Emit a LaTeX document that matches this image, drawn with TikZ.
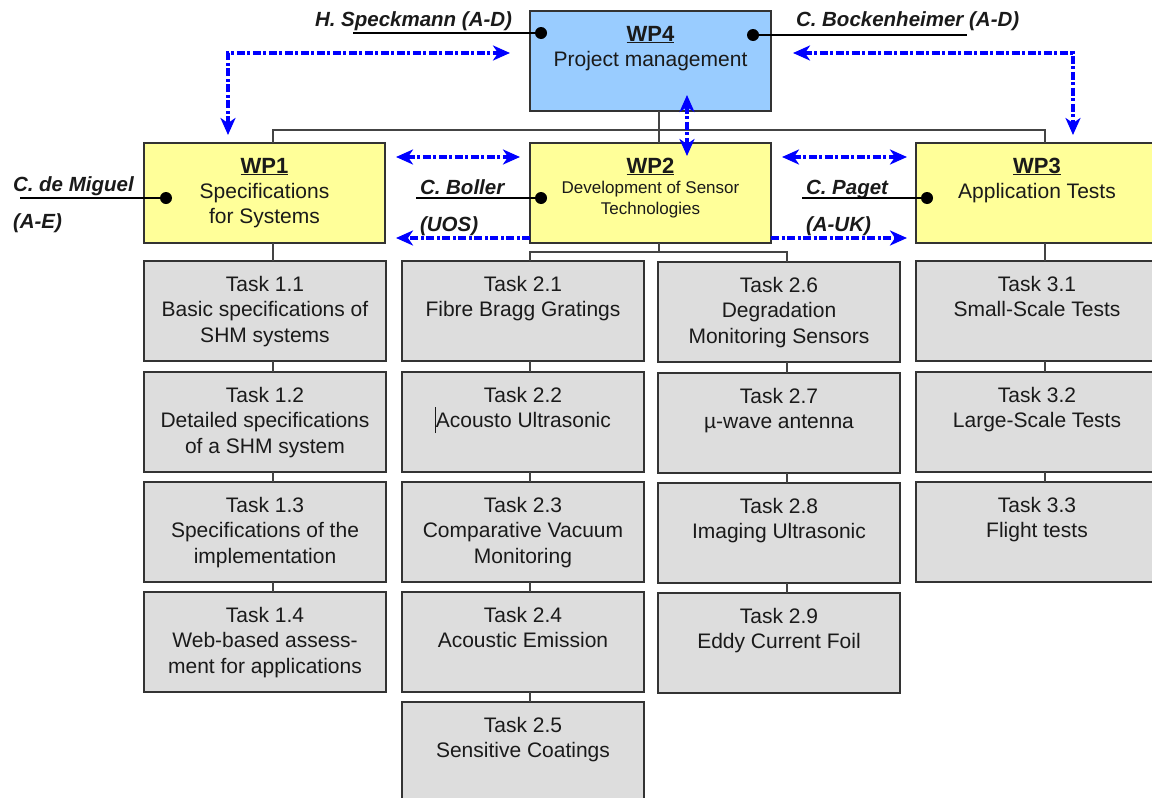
\documentclass[tikz,border=0pt]{standalone}
\usepackage{fontspec}
\setmainfont{Liberation Sans}
\usetikzlibrary{arrows.meta}
\definecolor{wpblue}{HTML}{99CCFF}
\definecolor{wpyellow}{HTML}{FFFF99}
\definecolor{taskgray}{HTML}{DDDDDD}
\definecolor{boxline}{HTML}{333333}
\definecolor{connline}{HTML}{444444}
\definecolor{arrowblue}{HTML}{0000FF}
\definecolor{txt}{HTML}{1A1A1A}
\newcommand{\tasktext}[1]{\parbox[c][100pt][t]{242pt}{\centering\color{txt}\fontsize{21}{25.5}\selectfont\rule{0pt}{30pt}#1}}
\newcommand{\wptext}[4]{\parbox[c][100pt][t]{241pt}{\centering\color{txt}\rule{0pt}{30pt}{\fontsize{22}{25}\selectfont\bfseries\underline{#1}}\par\fontsize{#2}{#3}\selectfont #4}}
\tikzset{
  boxbase/.style={draw=boxline, line width=1.5pt, inner sep=0pt, outer sep=0pt, anchor=north west},
  wpbox/.style={boxbase, minimum width=241pt, minimum height=100pt},
  taskbox/.style={boxbase, fill=taskgray, minimum width=242pt, minimum height=100pt},
  conn/.style={draw=connline, line width=1.5pt},
  person/.style={inner sep=0pt, outer sep=0pt, anchor=base west, text=txt, font=\fontsize{20.5}{23}\selectfont\bfseries\itshape},
  leader/.style={draw=black, line width=1.4pt},
  bluelink/.style={draw=arrowblue, line width=4pt, dash pattern=on 8pt off 2.5pt on 3pt off 2.5pt},
  tipb/.tip={Stealth[length=17pt,width=15pt,inset=5pt]},
  biarrow/.style={bluelink, tipb-tipb},
  onearrow/.style={bluelink, -tipb}
}
\begin{document}
\begin{tikzpicture}[x=1pt, y=-1pt]
\useasboundingbox (0,0) rectangle (1152,798);
\clip (0,0) rectangle (1152,798);
\fill[white] (0,0) rectangle (1152,798);

% work packages
\node[wpbox, fill=wpblue] (wp4) at (530,11) {\wptext{WP4}{21}{25}{Project management}};
\node[wpbox, fill=wpyellow] (wp1) at (144,143) {\wptext{WP1}{21}{25}{Specifications\\for Systems}};
\node[wpbox, fill=wpyellow] (wp2) at (530,143) {\wptext{WP2}{17}{20.5}{Development of Sensor\\Technologies}};
\node[wpbox, fill=wpyellow, minimum width=242pt] (wp3) at (916,143) {\parbox[c][100pt][t]{242pt}{\centering\color{txt}\rule{0pt}{30pt}{\fontsize{22}{25}\selectfont\bfseries\underline{WP3}}\par\fontsize{21}{25}\selectfont Application Tests}};

% tasks column 1
\node[taskbox] (t11) at (144,261) {\tasktext{Task 1.1\\Basic specifications of\\SHM systems}};
\node[taskbox] (t12) at (144,372) {\tasktext{Task 1.2\\Detailed specifications\\of a SHM system}};
\node[taskbox] (t13) at (144,482) {\tasktext{Task 1.3\\Specifications of the\\implementation}};
\node[taskbox] (t14) at (144,592) {\tasktext{Task 1.4\\Web-based assess-\\ment for applications}};
% tasks column 2a
\node[taskbox] (t21) at (402,261) {\tasktext{Task 2.1\\Fibre Bragg Gratings}};
\node[taskbox] (t22) at (402,372) {\tasktext{Task 2.2\\\rule[-5.5pt]{0.8pt}{26pt}Acousto Ultrasonic}};
\node[taskbox] (t23) at (402,482) {\tasktext{Task 2.3\\Comparative Vacuum\\Monitoring}};
\node[taskbox] (t24) at (402,592) {\tasktext{Task 2.4\\Acoustic Emission}};
\node[taskbox] (t25) at (402,702) {\tasktext{Task 2.5\\Sensitive Coatings}};
% tasks column 2b
\node[taskbox] (t26) at (658,262) {\tasktext{Task 2.6\\Degradation\\Monitoring Sensors}};
\node[taskbox] (t27) at (658,373) {\tasktext{Task 2.7\\µ-wave antenna}};
\node[taskbox] (t28) at (658,483) {\tasktext{Task 2.8\\Imaging Ultrasonic}};
\node[taskbox] (t29) at (658,593) {\tasktext{Task 2.9\\Eddy Current Foil}};
% tasks column 3
\node[taskbox] (t31) at (916,261) {\tasktext{Task 3.1\\Small-Scale Tests}};
\node[taskbox] (t32) at (916,372) {\tasktext{Task 3.2\\Large-Scale Tests}};
\node[taskbox] (t33) at (916,482) {\tasktext{Task 3.3\\Flight tests}};

% connector columns
\coordinate (c1) at (273,0);
\coordinate (c2) at (530,0);
\coordinate (cm) at (659,0);
\coordinate (c3) at (787,0);
\coordinate (c4) at (1045,0);
\coordinate (tophub) at (659,130);
\coordinate (midhub) at (659,252);

\draw[conn] (wp4.south -| cm) -- (wp2.north -| cm);
\draw[conn] (wp1.north -| c1) |- (tophub) -| (wp3.north -| c4);
\draw[conn] (wp2.south -| cm) -- (midhub);
\draw[conn] (t21.north -| c2) |- (midhub) -| (t26.north -| c3);
\draw[conn] (wp1.south -| c1) -- (t11.north -| c1);
\draw[conn] (wp3.south -| c4) -- (t31.north -| c4);
\draw[conn] (t11.south -| c1) -- (t12.north -| c1);
\draw[conn] (t12.south -| c1) -- (t13.north -| c1);
\draw[conn] (t13.south -| c1) -- (t14.north -| c1);
\draw[conn] (t21.south -| c2) -- (t22.north -| c2);
\draw[conn] (t22.south -| c2) -- (t23.north -| c2);
\draw[conn] (t23.south -| c2) -- (t24.north -| c2);
\draw[conn] (t24.south -| c2) -- (t25.north -| c2);
\draw[conn] (t26.south -| c3) -- (t27.north -| c3);
\draw[conn] (t27.south -| c3) -- (t28.north -| c3);
\draw[conn] (t28.south -| c3) -- (t29.north -| c3);
\draw[conn] (t31.south -| c4) -- (t32.north -| c4);
\draw[conn] (t32.south -| c4) -- (t33.north -| c4);

% persons
\node[person] (hs) at (315,26) {H. Speckmann (A-D)};
\node[person] (cb) at (796,26) {C. Bockenheimer (A-D)};
\node[person] (cm1) at (13,191) {C. de Miguel};
\node[person] (cm2) at (13,228) {(A-E)};
\node[person] (bo1) at (420,194) {C. Boller};
\node[person] (bo2) at (420,231) {(UOS)};
\node[person] (pa1) at (806,194) {C. Paget};
\node[person] (pa2) at (806,231) {(A-UK)};

\coordinate (d4l) at (541,33);
\coordinate (d4r) at (753,35);
\coordinate (d1) at (166,198);
\coordinate (d2) at (541,198);
\coordinate (d3) at (927,198);
\coordinate (l4l) at (353,33);
\coordinate (l4r) at (967,35);
\coordinate (l1) at (20,198);
\coordinate (l2) at (416,198);
\coordinate (l3) at (802,198);
\draw[leader] (l4l) -- (d4l);
\draw[leader] (d4r) -- (l4r);
\draw[leader] (l1) -- (d1);
\draw[leader] (l2) -- (d2);
\draw[leader] (l3) -- (d3);
\foreach \d in {d4l,d4r,d1,d2,d3} \fill[black] (\d) circle (6pt);

% blue links
\coordinate (a1) at (228,135);
\coordinate (a2) at (510,53);
\coordinate (a3) at (793,53);
\coordinate (a4) at (1073,135);
\coordinate (a5) at (687,95);
\coordinate (a6) at (687,156);
\coordinate (a7) at (396,157);
\coordinate (a8) at (520,157);
\coordinate (a9) at (782,157);
\coordinate (a10) at (907,157);
\coordinate (a11) at (396,238);
\coordinate (a12) at (907,238);
\draw[biarrow] (a1) |- (a2);
\draw[biarrow] (a3) -| (a4);
\draw[biarrow] (a5) -- (a6);
\draw[biarrow] (a7) -- (a8);
\draw[biarrow] (a9) -- (a10);
\draw[onearrow] (wp2.west |- a11) -- (a11);
\draw[onearrow] (wp2.east |- a12) -- (a12);
\end{tikzpicture}
\end{document}
